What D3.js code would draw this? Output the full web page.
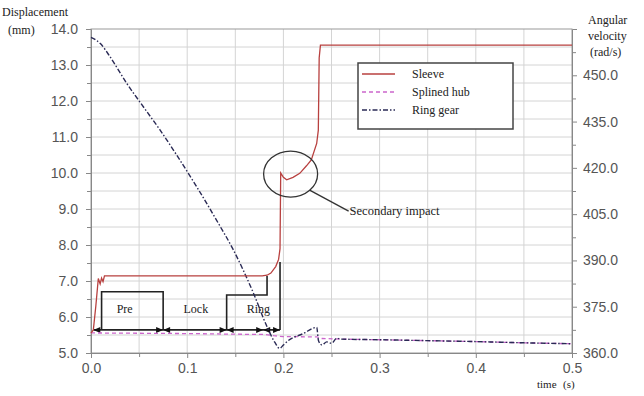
<!DOCTYPE html>
<html><head><meta charset="utf-8">
<script src="https://cdn.jsdelivr.net/npm/d3@7/dist/d3.min.js"></script>
<style>body{margin:0;background:#fff}svg{display:block}</style>
</head><body><svg id="c" width="644" height="396"></svg>
<script>
// ---- data ----
const sleeveT = [0,0.0024,0.005,0.0076,0.0095,0.011,0.0125,0.014,0.178,0.183,0.187,0.192,0.195,0.1965,0.1972,0.2,0.2034,0.21,0.217,0.224,0.229,0.2346,0.2363,0.2372,0.2385,0.5];
const sleeveV = [5.55,5.64,6.3,7.07,6.92,7.08,6.98,7.14,7.14,7.16,7.22,7.4,7.6,7.9,10.0,9.88,9.81,9.88,9.99,10.2,10.36,10.82,11.19,13.2,13.55,13.55];
const hubT = [0,0.05,0.1,0.15,0.18,0.19,0.2,0.21,0.235,0.24,0.26,0.3,0.35,0.4,0.45,0.5];
const hubV = [366.5,366.4,366.3,366.1,366.0,365.6,365.3,365.3,365.2,364.7,364.5,364.3,364.0,363.7,363.3,363.0];
const ringT = [0,0.01,0.0198,0.0371,0.0544,0.0717,0.09,0.11,0.13,0.148,0.169,0.183,0.191,0.196,0.2,0.205,0.22,0.2346,0.2365,0.24,0.245,0.25,0.2554,0.26,0.3,0.35,0.4,0.45,0.5];
const ringV = [462.3,460.2,456.0,447.4,439.8,432.3,423.7,413.8,403.3,393.4,379.3,368.5,363.5,361.5,362.6,364.0,366.2,368.3,364.0,362.6,363.6,363.1,364.8,364.5,364.3,364.0,363.7,363.3,363.0];
const leftTicks = [5,6,7,8,9,10,11,12,13,14];
const rightTicks = [360,375,390,405,420,435,450];
const xTicks = [0,0.1,0.2,0.3,0.4,0.5];
const seriesNames = ["Sleeve","Splined hub","Ring gear"];
// stage annotation (time, displacement)
const preBox = [[0.011,5.64],[0.011,6.70],[0.075,6.70],[0.075,5.64]];
const ringBox = [[0.141,5.64],[0.141,6.61],[0.183,6.61],[0.183,7.14]];
const ringEdge = [[0.1965,5.64],[0.1965,7.53]];
const stageLine = [0.0024,0.1965];
const stageLevel = 5.64;
const stageMarks = [0.0024,0.075,0.141,0.179,0.1965];
const stageLabels = [["Pre",0.035],["Lock",0.109],["Ring",0.174]];
const impact = {t:0.2075, v:9.97, text:"Secondary impact"};

// ---- chart ----
const svg = d3.select("#c");
const L=91,R=572,T=29,B=353;
const x = d3.scaleLinear([0,0.5],[L,R]);
const yL = d3.scaleLinear([5,14],[B,T]);
const yR = d3.scaleLinear([360,465],[B,T]);
const serif = "'Liberation Serif','DejaVu Serif',serif";
const sans = "'Liberation Sans',Arial,sans-serif";

// grid
const g = svg.append("g");
g.selectAll("line.h").data(d3.range(5.5,14,0.5)).join("line")
  .attr("x1",L).attr("x2",R).attr("y1",d=>yL(d)).attr("y2",d=>yL(d))
  .attr("stroke","#d4d4d4").attr("stroke-width",1);
g.selectAll("line.v").data(d3.range(0.05,0.5,0.05)).join("line")
  .attr("y1",T).attr("y2",B).attr("x1",d=>x(d)).attr("x2",d=>x(d))
  .attr("stroke","#d4d4d4").attr("stroke-width",1);
svg.append("rect").attr("x",L).attr("y",T).attr("width",R-L).attr("height",B-T)
  .attr("fill","none").attr("stroke","#999").attr("stroke-width",1);

function styleAxis(a){
  a.select(".domain").attr("stroke","#888");
  a.selectAll(".tick line").attr("stroke","#888");
  a.selectAll("text").attr("font-family",sans).attr("font-size",14).attr("fill","#555");
}
const ax = svg.append("g").attr("transform",`translate(0,${B})`)
  .call(d3.axisBottom(x).tickValues(xTicks).tickFormat(d3.format(".1f")).tickSize(5).tickPadding(5));
styleAxis(ax);
const al = svg.append("g").attr("transform",`translate(${L},0)`)
  .call(d3.axisLeft(yL).tickValues(leftTicks).tickFormat(d3.format(".1f")).tickSize(5).tickPadding(8));
styleAxis(al);
const ar = svg.append("g").attr("transform",`translate(${R},0)`)
  .call(d3.axisRight(yR).tickValues(rightTicks).tickFormat(d3.format(".1f")).tickSize(5).tickPadding(6));
styleAxis(ar);
// minor ticks
svg.append("g").attr("transform",`translate(0,${B})`)
  .call(d3.axisBottom(x).tickValues(d3.range(0.05,0.5,0.1)).tickFormat("").tickSize(4))
  .call(a=>{a.select(".domain").remove();a.selectAll("line").attr("stroke","#888");});
svg.append("g").attr("transform",`translate(${L},0)`)
  .call(d3.axisLeft(yL).tickValues(d3.range(5.5,14,1)).tickFormat("").tickSize(4))
  .call(a=>{a.select(".domain").remove();a.selectAll("line").attr("stroke","#888");});
svg.append("g").attr("transform",`translate(${R},0)`)
  .call(d3.axisRight(yR).tickValues(d3.range(367.5,465,15)).tickFormat("").tickSize(4))
  .call(a=>{a.select(".domain").remove();a.selectAll("line").attr("stroke","#888");});

// axis titles
const txt=(s,xx,yy,o={})=>svg.append("text").attr("x",xx).attr("y",yy).text(s)
  .attr("font-family",serif).attr("font-size",o.fs||12).attr("fill","#222")
  .attr("text-anchor",o.anchor||"start");
txt("Displacement",2,16);
txt("(mm)",8,34);
txt("Angular",588,24);
txt("velocity",588,40);
txt("(rad/s)",590,56);
txt("time",537,388,{fs:11});
txt("(s)",563,388,{fs:11});

// stage annotations
const ln = d3.line().x(d=>x(d[0])).y(d=>yL(d[1]));
[preBox,ringBox,ringEdge].forEach(p=>svg.append("path").attr("d",ln(p))
  .attr("fill","none").attr("stroke","#222").attr("stroke-width",1.6));
svg.append("line").attr("x1",x(stageLine[0])).attr("x2",x(stageLine[1]))
  .attr("y1",yL(stageLevel)).attr("y2",yL(stageLevel)).attr("stroke","#222").attr("stroke-width",1.8);
stageMarks.forEach((t,i)=>{
  const cx=x(t), cy=yL(stageLevel);
  if(i>0) svg.append("path").attr("d",`M${cx},${cy}L${cx-7},${cy-3}L${cx-7},${cy+3}Z`).attr("fill","#111");
  if(i<stageMarks.length-1) svg.append("path").attr("d",`M${cx},${cy}L${cx+7},${cy-3}L${cx+7},${cy+3}Z`).attr("fill","#111");
});
stageLabels.forEach(([s,t])=>txt(s,x(t),yL(stageLevel)-17,{fs:12,anchor:"middle"}));

// series
const colors=["#b8403f","#cc66cc","#2a2a55"];
const lineL = d3.line().x(d=>x(d[0])).y(d=>yL(d[1]));
const lineR = d3.line().x(d=>x(d[0])).y(d=>yR(d[1]));
const lineRs = d3.line().x(d=>x(d[0])).y(d=>yR(d[1])).curve(d3.curveMonotoneX);
svg.append("path").attr("d",lineR(d3.zip(hubT,hubV))).attr("fill","none")
  .attr("stroke",colors[1]).attr("stroke-width",1.3).attr("stroke-dasharray","4,3");
svg.append("path").attr("d",lineRs(d3.zip(ringT,ringV))).attr("fill","none")
  .attr("stroke",colors[2]).attr("stroke-width",1.4).attr("stroke-dasharray","5,2,1.5,2");
svg.append("path").attr("d",lineL(d3.zip(sleeveT,sleeveV))).attr("fill","none")
  .attr("stroke",colors[0]).attr("stroke-width",1.3);

// secondary impact
const icx=x(impact.t), icy=yL(impact.v);
svg.append("ellipse").attr("cx",icx).attr("cy",icy).attr("rx",27).attr("ry",23)
  .attr("fill","none").attr("stroke","#333").attr("stroke-width",1.3);
svg.append("line").attr("x1",icx+19).attr("y1",icy+16).attr("x2",icx+58).attr("y2",icy+37)
  .attr("stroke","#333").attr("stroke-width",1.3);
txt(impact.text,icx+59,icy+41,{fs:12.5});

// legend
const lg = svg.append("g");
lg.append("rect").attr("x",358).attr("y",63).attr("width",155).attr("height",66)
  .attr("fill","#fff").attr("stroke","#444").attr("stroke-width",1.5);
const dashes=[null,"4,3","5,2,1.5,2"];
seriesNames.forEach((s,i)=>{
  const yy=74+i*18;
  lg.append("line").attr("x1",362).attr("x2",395).attr("y1",yy).attr("y2",yy)
    .attr("stroke",colors[i]).attr("stroke-width",1.4).attr("stroke-dasharray",dashes[i]);
  lg.append("text").attr("x",412).attr("y",yy+4).text(s).attr("font-family",serif)
    .attr("font-size",12).attr("fill","#222");
});
</script></body></html>
